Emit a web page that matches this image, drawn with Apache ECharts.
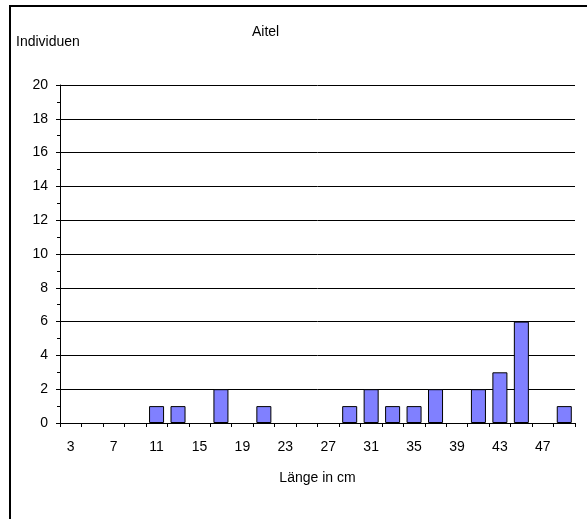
<!DOCTYPE html>
<html>
<head>
<meta charset="utf-8">
<script src="https://cdn.jsdelivr.net/npm/echarts@6/dist/echarts.min.js"></script>
<style>
  html, body { margin: 0; padding: 0; background: #fff; }
  #chart { width: 587px; height: 519px; }
</style>
</head>
<body>
<div id="chart"></div>
<script>
// Length classes (cm) and fish counts per class
var lengthClasses = ['3', '5', '7', '9', '11', '13', '15', '17', '19', '21', '23', '25',
                     '27', '29', '31', '33', '35', '37', '39', '41', '43', '45', '47', '49'];
var counts = [0, 0, 0, 0, 1, 1, 0, 2, 0, 1, 0, 0,
              0, 1, 2, 1, 1, 2, 0, 2, 3, 6, 0, 1];
var yTicks = [0, 2, 4, 6, 8, 10, 12, 14, 16, 18, 20];

var FONT = '"Liberation Sans", Arial, sans-serif';
var chart = echarts.init(document.getElementById('chart'), null, { renderer: 'canvas' });

// empty classes get no bar outline
var barData = counts.map(function (v) { return v === 0 ? '-' : v; });

chart.setOption({
  animation: false,
  backgroundColor: '#ffffff',
  graphic: [
    {
      type: 'rect',
      shape: { x: 10, y: 6, width: 700, height: 700 },
      style: { fill: 'none', stroke: '#000', lineWidth: 2 },
      silent: true
    },
    {
      type: 'text',
      left: 16,
      top: 35,
      style: { text: 'Individuen', font: '14px ' + FONT, fill: '#000' }
    },
    {
      type: 'text',
      left: 252,
      top: 25,
      style: { text: 'Aitel', font: '14px ' + FONT, fill: '#000' }
    }
  ],
  grid: { left: 60, right: 12, top: 85, bottom: 96, containLabel: false },
  xAxis: {
    type: 'category',
    data: lengthClasses,
    boundaryGap: true,
    name: 'Länge in cm',
    nameLocation: 'middle',
    nameGap: 48,
    nameTextStyle: { fontFamily: FONT, fontSize: 14, color: '#000' },
    axisLine: { show: true, lineStyle: { color: '#000', width: 1 } },
    axisTick: { show: true, interval: 0, length: 4, lineStyle: { color: '#000' } },
    axisLabel: { interval: 1, margin: 17, fontFamily: FONT, fontSize: 14, color: '#000' },
    splitLine: { show: false }
  },
  yAxis: {
    type: 'value',
    min: yTicks[0],
    max: yTicks[yTicks.length - 1],
    interval: 2,
    axisLine: { show: true, lineStyle: { color: '#000', width: 1 } },
    axisTick: { show: true, length: 4, lineStyle: { color: '#000' } },
    minorTick: { show: true, splitNumber: 2, length: 3, lineStyle: { color: '#000' } },
    axisLabel: { margin: 12, fontFamily: FONT, fontSize: 14, color: '#000' },
    splitLine: { show: true, lineStyle: { color: '#000', width: 1 } }
  },
  series: [{
    type: 'bar',
    data: barData,
    barCategoryGap: '30%',
    itemStyle: { color: '#8080ff', borderColor: '#000', borderWidth: 1 }
  }]
});
</script>
</body>
</html>
